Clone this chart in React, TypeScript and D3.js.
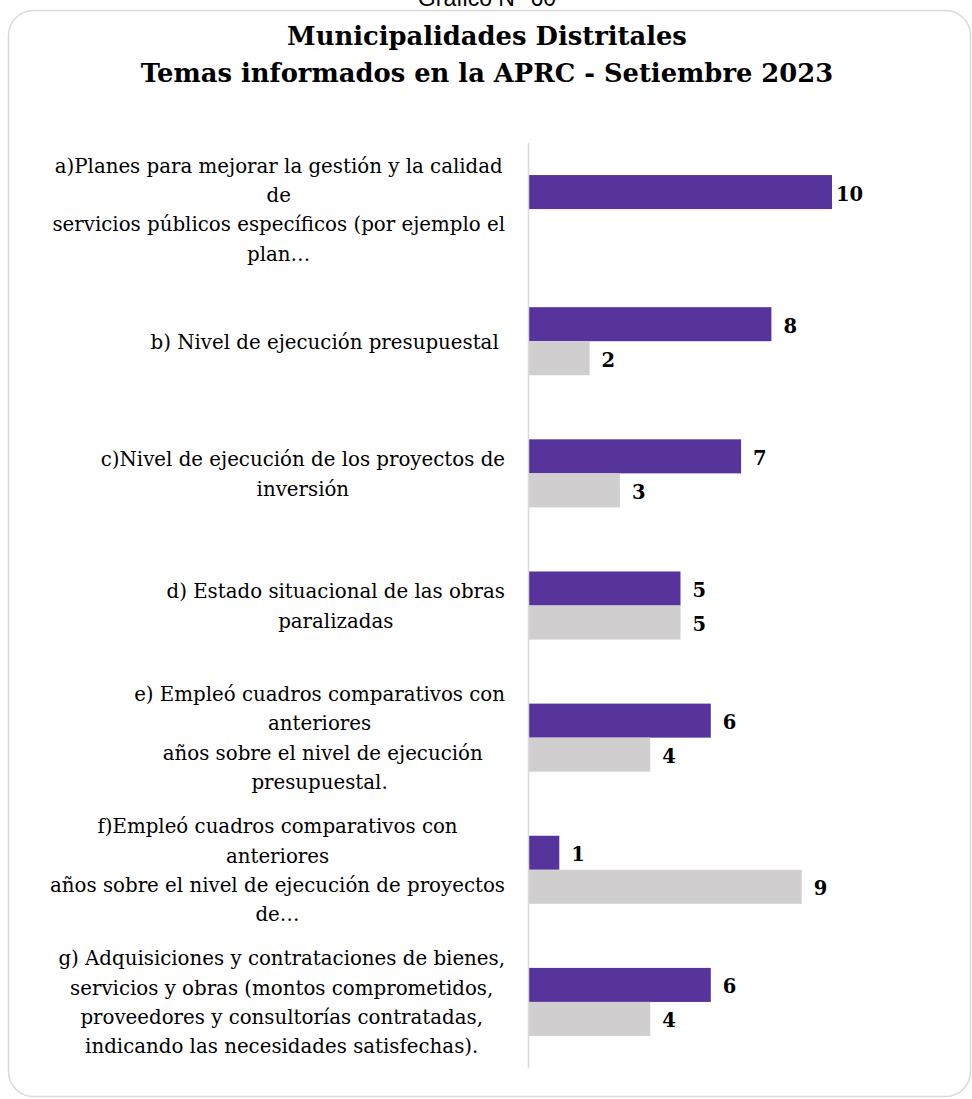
import React from "react";
import * as d3 from "d3";

const categories: string[][] = [
  ["a)Planes para mejorar la gestión y la calidad", "de", "servicios públicos específicos (por ejemplo el", "plan…"],
  ["b) Nivel de ejecución presupuestal "],
  ["c)Nivel de ejecución de los proyectos de", "inversión"],
  ["d) Estado situacional de las obras", "paralizadas"],
  ["e) Empleó cuadros comparativos con", "anteriores", " años sobre el nivel de ejecución", "presupuestal."],
  ["f)Empleó cuadros comparativos con", "anteriores", "años sobre el nivel de ejecución de proyectos", "de…"],
  ["g) Adquisiciones y contrataciones de bienes,", "servicios y obras (montos comprometidos,", "proveedores y consultorías contratadas,", "indicando las necesidades satisfechas)."],
];
const seriesSi: number[] = [10, 8, 7, 5, 6, 1, 6];
const seriesNo: number[] = [0, 2, 3, 5, 4, 9, 4];
const seriesNames = ["Sí", "No"];
const seriesColors = ["#57349B", "#D0CECF"];

const W = 972;
const H = 1099;
const SERIF = "'DejaVu Serif', serif";
const LABEL_FONT_SIZE = 19.8;

let ctx: CanvasRenderingContext2D | null = null;
function measure(text: string, font: string): number {
  if (!ctx) ctx = document.createElement("canvas").getContext("2d");
  if (!ctx) return text.length * 9;
  ctx.font = font;
  return ctx.measureText(text).width;
}

export default function App() {
  const idx = categories.map((_, i) => String(i));
  const y = d3.scaleBand<string>().domain(idx).range([143, 1068]).paddingInner(0.485).paddingOuter(0.2425);
  const ySub = d3.scaleBand<string>().domain(seriesNames).range([0, y.bandwidth()]);
  const x = d3.scaleLinear().domain([0, 10]).range([529, 832]);
  const series = [seriesSi, seriesNo];
  const lineH = 29.3;
  const labelRight = 505;
  const labelFont = `${LABEL_FONT_SIZE}px ${SERIF}`;

  return (
    <div style={{ position: "absolute", left: 0, top: 0 }}>
      <svg width={W} height={H} style={{ display: "block", background: "#fff" }}>
        <text x={487} y={6} textAnchor="middle" fontFamily="'Liberation Sans', Arial, sans-serif" fontSize={23} fill="#000">
          Gráfico N° 60
        </text>
        <rect x={8.5} y={10.5} width={962} height={1086} rx={25} ry={25} fill="none" stroke="#d9d9d9" strokeWidth={1.5} />
        <text x={487} y={45} textAnchor="middle" fontFamily={SERIF} fontWeight="bold" fontSize={25.8} fill="#000">
          Municipalidades Distritales
        </text>
        <text x={487} y={82} textAnchor="middle" fontFamily={SERIF} fontWeight="bold" fontSize={25.8} fill="#000">
          Temas informados en la APRC - Setiembre 2023
        </text>

        {series.map((vals, s) =>
          vals.map((v, i) => (
            <rect
              key={`b${s}-${i}`}
              x={x(0)}
              y={(y(String(i)) as number) + (ySub(seriesNames[s]) as number)}
              width={x(v) - x(0)}
              height={ySub.bandwidth()}
              fill={seriesColors[s]}
            />
          ))
        )}

        <line x1={528.5} x2={528.5} y1={143} y2={1068} stroke="#d9d9d9" strokeWidth={1.5} />

        {series.map((vals, s) =>
          vals.map((v, i) =>
            v > 0 ? (
              <text
                key={`l${s}-${i}`}
                x={x(v) + (v >= 10 ? 4 : 12)}
                y={(y(String(i)) as number) + (ySub(seriesNames[s]) as number) + ySub.bandwidth() / 2 + 3}
                dominantBaseline="middle"
                fontFamily={SERIF}
                fontWeight="bold"
                fontSize={19.5}
                fill="#000"
              >
                {v}
              </text>
            ) : null
          )
        )}

        {categories.map((lines, i) => {
          const maxW = d3.max(lines, (l) => measure(l, labelFont)) || 0;
          const cx = labelRight - maxW / 2;
          const cy = (y(String(i)) as number) + y.bandwidth() / 2 + 2;
          const top = cy - ((lines.length - 1) * lineH) / 2;
          return (
            <text key={`c${i}`} fontFamily={SERIF} fontSize={LABEL_FONT_SIZE} fill="#000" textAnchor="middle">
              {lines.map((l, j) => (
                <tspan key={j} x={cx} y={top + j * lineH} dominantBaseline="middle" style={{ whiteSpace: "pre" }}>
                  {l}
                </tspan>
              ))}
            </text>
          );
        })}
      </svg>
    </div>
  );
}
